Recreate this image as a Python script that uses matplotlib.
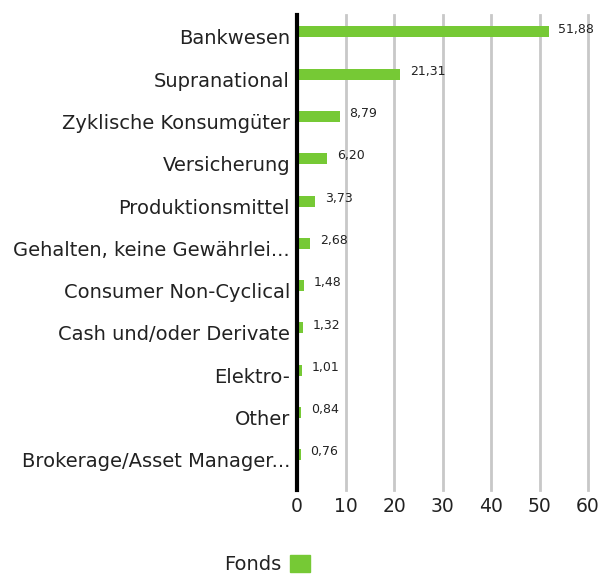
import matplotlib
matplotlib.use("Agg")
import matplotlib.pyplot as plt
import matplotlib.transforms as mtransforms
from matplotlib.patches import Patch

categories = ["Bankwesen", "Supranational", "Zyklische Konsumgüter", "Versicherung",
              "Produktionsmittel", "Gehalten, keine Gewährlei...", "Consumer Non-Cyclical",
              "Cash und/oder Derivate", "Elektro-", "Other", "Brokerage/Asset Manager..."]
values = [51.88, 21.31, 8.79, 6.20, 3.73, 2.68, 1.48, 1.32, 1.01, 0.84, 0.76]
value_labels = ["51,88", "21,31", "8,79", "6,20", "3,73", "2,68", "1,48", "1,32", "1,01", "0,84", "0,76"]
xticks = [0, 10, 20, 30, 40, 50, 60]
series_name = "Fonds"

plt.rcParams['font.family'] = ['DejaVu Sans']
green = "#76c935"
txt = "#222222"

fig = plt.figure(figsize=(6.0, 5.77), dpi=100)
ax = fig.add_axes([0.495, 0.151, 0.485, 0.823])

ypos = list(range(len(categories)))
ax.barh(ypos, values, height=0.26, color=green, zorder=3)
for y, v, lab in zip(ypos, values, value_labels):
    ax.annotate(lab, (v, y), xytext=(7, 2), textcoords="offset points",
                va="center", ha="left", fontsize=9, color=txt)

ax.set_xlim(0, 60)
ax.set_ylim(10.83, -0.4)
ax.set_xticks(xticks)
ax.set_xticklabels([str(t) for t in xticks], fontsize=13.5, color=txt)
ax.set_yticks(ypos)
ax.set_yticklabels(categories, fontsize=14, color=txt)
ax.tick_params(axis="y", length=0, pad=5)
ax.tick_params(axis="x", length=0, pad=5)
offset = mtransforms.ScaledTranslation(0, -5/100, fig.dpi_scale_trans)
for lab in ax.get_yticklabels():
    lab.set_transform(lab.get_transform() + offset)
ax.grid(axis="x", color="#c8c8c8", linewidth=2, zorder=0)
for gl in ax.get_xgridlines():
    gl.set_clip_on(False)
for s in ["top", "right", "bottom"]:
    ax.spines[s].set_visible(False)
ax.spines["left"].set_linewidth(3)
ax.spines["left"].set_color("black")
ax.spines["left"].set_zorder(4)

leg = fig.legend(handles=[Patch(color=green, label=series_name)], markerfirst=False,
                 loc="center", bbox_to_anchor=(0.445, 0.022), frameon=False,
                 fontsize=14, handlelength=1.0, handleheight=1.0, handletextpad=0.45)
for t in leg.get_texts():
    t.set_color(txt)

fig.savefig("out.png", dpi=100)
